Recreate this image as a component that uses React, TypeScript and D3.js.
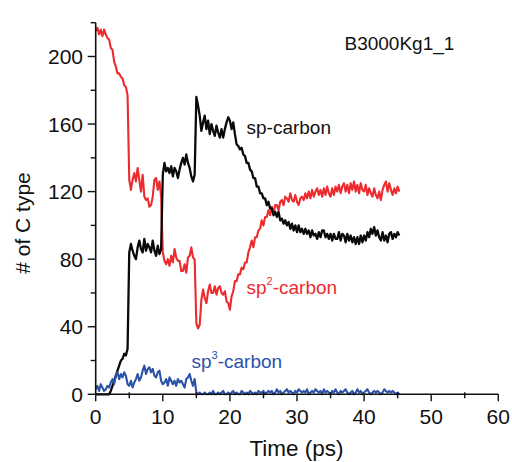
import React from "react";
import * as d3 from "d3";

// Sampling of the simulation trajectories (ps)
const TIME_START = 0;
const TIME_STEP = 0.25;

// sp-carbon (black), one row per ps (4 samples per ps)
const SP_CARBON = [
  0, 0, 0, 0,
  0, 0, 0, 0,
  0, 2, 5, 8,
  11, 14, 17, 20,
  21, 24, 23, 27,
  84, 89, 85, 82,
  80, 87, 91, 86,
  84, 92, 85, 89,
  87, 84, 91, 85,
  82, 88, 83, 86,
  130, 137, 132, 134,
  131, 135, 129, 134,
  132, 128, 133, 137,
  140, 136, 142, 137,
  134, 129, 126, 130,
  176, 171, 165, 156,
  161, 165, 157, 162,
  154, 160, 156, 153,
  159, 155, 152, 157,
  152, 157, 161, 164,
  162, 157, 161, 154,
  148, 147, 145, 146,
  142, 141, 137, 137,
  133, 132, 128, 128,
  123, 123, 119, 119,
  116, 116, 112, 114,
  110, 110, 106, 108,
  105, 108, 103, 104,
  101, 103, 100, 102,
  98, 101, 97, 100,
  96, 100, 96, 98,
  95, 98, 95, 97,
  93, 97, 94, 95,
  92, 96, 93, 97,
  97, 93, 95, 92,
  95, 91, 95, 92,
  92, 96, 91, 95,
  94, 90, 95, 91,
  94, 90, 93, 89,
  93, 89, 94, 90,
  94, 91, 96, 93,
  98, 95, 99, 94,
  97, 93, 91, 96,
  91, 94, 90, 95,
  96, 92, 95, 93,
  96, 94,
];

// sp2-carbon (red)
const SP2_CARBON = [
  215, 217, 213, 216,
  212, 216, 213, 211,
  210, 205, 204, 197,
  194, 190, 190, 188,
  187, 183, 182, 177,
  127, 121, 127, 131,
  126, 134, 127, 120,
  130, 117, 115, 116,
  111, 112, 117, 127,
  128, 121, 126, 117,
  84, 79, 77, 80,
  76, 82, 78, 86,
  81, 79, 79, 73,
  73, 77, 72, 81,
  82, 87, 81, 80,
  42, 39, 41, 56,
  62, 57, 54, 61,
  65, 60, 60, 64,
  59, 63, 64, 60,
  59, 61, 55, 54,
  50, 58, 61, 67,
  67, 71, 71, 75,
  74, 78, 78, 84,
  87, 91, 87, 93,
  93, 97, 98, 103,
  100, 105, 105, 109,
  106, 111, 107, 112,
  112, 109, 114, 115,
  112, 117, 116, 114,
  119, 115, 114, 118,
  114, 112, 116, 117,
  115, 119, 116, 120,
  116, 121, 117, 120,
  122, 118, 121, 117,
  122, 118, 123, 119,
  117, 122, 118, 123,
  120, 124, 119, 123,
  125, 120, 124, 119,
  125, 121, 126, 120,
  124, 119, 125, 121,
  120, 124, 118, 122,
  119, 117, 122, 118,
  116, 120, 115, 121,
  124, 126, 120, 125,
  121, 118, 122, 119,
  123, 120,
];

// sp3-carbon (blue)
const SP3_CARBON = [
  3, 5, 2, 6,
  4, 2, 3, 5,
  4, 7, 9, 6,
  11, 13, 9, 12,
  10, 13, 11, 6,
  5, 8, 4, 7,
  9, 12, 8, 10,
  14, 17, 12, 15,
  16, 13, 15, 11,
  10, 13, 14, 8,
  6, 7, 9, 5,
  10, 8, 6, 8,
  5, 9, 7, 8,
  6, 4, 9, 10,
  12, 8, 5, 9,
  1, 0, 1, 0,
  0, 1, 0, 0,
  1, 0, 2, 0,
  0, 1, 0, 1,
  2, 0, 0, 1,
  0, 1, 2, 0,
  1, 0, 0, 2,
  1, 0, 1, 0,
  2, 1, 0, 1,
  0, 2, 1, 1,
  2, 0, 1, 2,
  1, 2, 0, 1,
  3, 1, 2, 0,
  1, 2, 3, 1,
  2, 1, 0, 2,
  1, 3, 2, 1,
  2, 1, 3, 0,
  1, 2, 1, 3,
  2, 1, 2, 0,
  3, 1, 2, 1,
  0, 2, 1, 3,
  1, 0, 2, 1,
  2, 3, 1, 0,
  1, 2, 0, 1,
  3, 1, 2, 0,
  1, 2, 3, 1,
  0, 1, 2, 1,
  2, 1, 0, 1,
  3, 2, 1, 2,
  1, 2, 1, 0,
  1, 0,
];

const X_TICKS = [0, 10, 20, 30, 40, 50, 60];
const X_MINOR = [5, 15, 25, 35, 45, 55];
const Y_TICKS = [0, 40, 80, 120, 160, 200];
const Y_MINOR = [20, 60, 100, 140, 180, 220];

const W = 512;
const H = 462;
const FONT = "Arial, 'Liberation Sans', Helvetica, sans-serif";

const RED = "#ec2b2f";
const BLUE = "#2a52a8";
const BLACK = "#0a0a0a";

export default function App() {
  const x = d3.scaleLinear().domain([0, 60]).range([95.7, 498.3]);
  const y = d3.scaleLinear().domain([0, 220]).range([394.3, 22.7]);

  const toPts = (arr: number[]) =>
    arr.map((v, i) => [TIME_START + i * TIME_STEP, v] as [number, number]);

  const line = d3
    .line<[number, number]>()
    .x((d) => x(d[0]))
    .y((d) => y(d[1]));

  const x0 = x(0);
  const y0 = y(0);

  return (
    <svg
      width={W}
      height={H}
      style={{ position: "absolute", left: 0, top: 0, background: "#fff" }}
      fontFamily={FONT}
    >
      <rect x={0} y={0} width={W} height={H} fill="#fff" />

      {/* data */}
      <path d={line(toPts(SP2_CARBON)) || ""} fill="none" stroke={RED} strokeWidth={2.1} strokeLinejoin="round" />
      <path d={line(toPts(SP_CARBON)) || ""} fill="none" stroke={BLACK} strokeWidth={2.3} strokeLinejoin="round" />
      <path d={line(toPts(SP3_CARBON)) || ""} fill="none" stroke={BLUE} strokeWidth={2.1} strokeLinejoin="round" />

      {/* axes */}
      <line x1={x0} x2={x0} y1={y(220)} y2={y0} stroke="#111" strokeWidth={1.6} />
      <line x1={x0} x2={x(60)} y1={y0} y2={y0} stroke="#111" strokeWidth={1.6} />

      {Y_TICKS.map((t) => (
        <g key={"yt" + t}>
          <line x1={x0 - 8} x2={x0} y1={y(t)} y2={y(t)} stroke="#111" strokeWidth={1.4} />
          <text x={83} y={y(t) + 7.5} textAnchor="end" fontSize={21} fill="#111">
            {t}
          </text>
        </g>
      ))}
      {Y_MINOR.map((t) => (
        <line key={"ym" + t} x1={x0 - 5} x2={x0} y1={y(t)} y2={y(t)} stroke="#111" strokeWidth={1.4} />
      ))}

      {X_TICKS.map((t) => (
        <g key={"xt" + t}>
          <line x1={x(t)} x2={x(t)} y1={y0} y2={y0 + 7} stroke="#111" strokeWidth={1.4} />
          <text x={x(t)} y={424} textAnchor="middle" fontSize={21} fill="#111">
            {t}
          </text>
        </g>
      ))}
      {X_MINOR.map((t) => (
        <line key={"xm" + t} x1={x(t)} x2={x(t)} y1={y0 - 2} y2={y0 + 4} stroke="#111" strokeWidth={1.4} />
      ))}

      {/* axis titles */}
      <text x={296.5} y={456} textAnchor="middle" fontSize={22.5} fill="#111">
        Time (ps)
      </text>
      <text
        transform={`translate(30,223) rotate(-90)`}
        textAnchor="middle"
        fontSize={21}
        fill="#111"
      >
        # of C type
      </text>

      {/* annotations */}
      <text x={344.5} y={50} fontSize={19} fill="#111">
        B3000Kg1_1
      </text>
      <text x={246.5} y={134} fontSize={19} fill="#111">
        sp-carbon
      </text>
      <text x={246.5} y={294} fontSize={19} fill={RED}>
        sp<tspan fontSize={11} dy={-9}>2</tspan>
        <tspan dy={9}>-carbon</tspan>
      </text>
      <text x={191.5} y={368} fontSize={19} fill={BLUE}>
        sp<tspan fontSize={11} dy={-9}>3</tspan>
        <tspan dy={9}>-carbon</tspan>
      </text>
    </svg>
  );
}
